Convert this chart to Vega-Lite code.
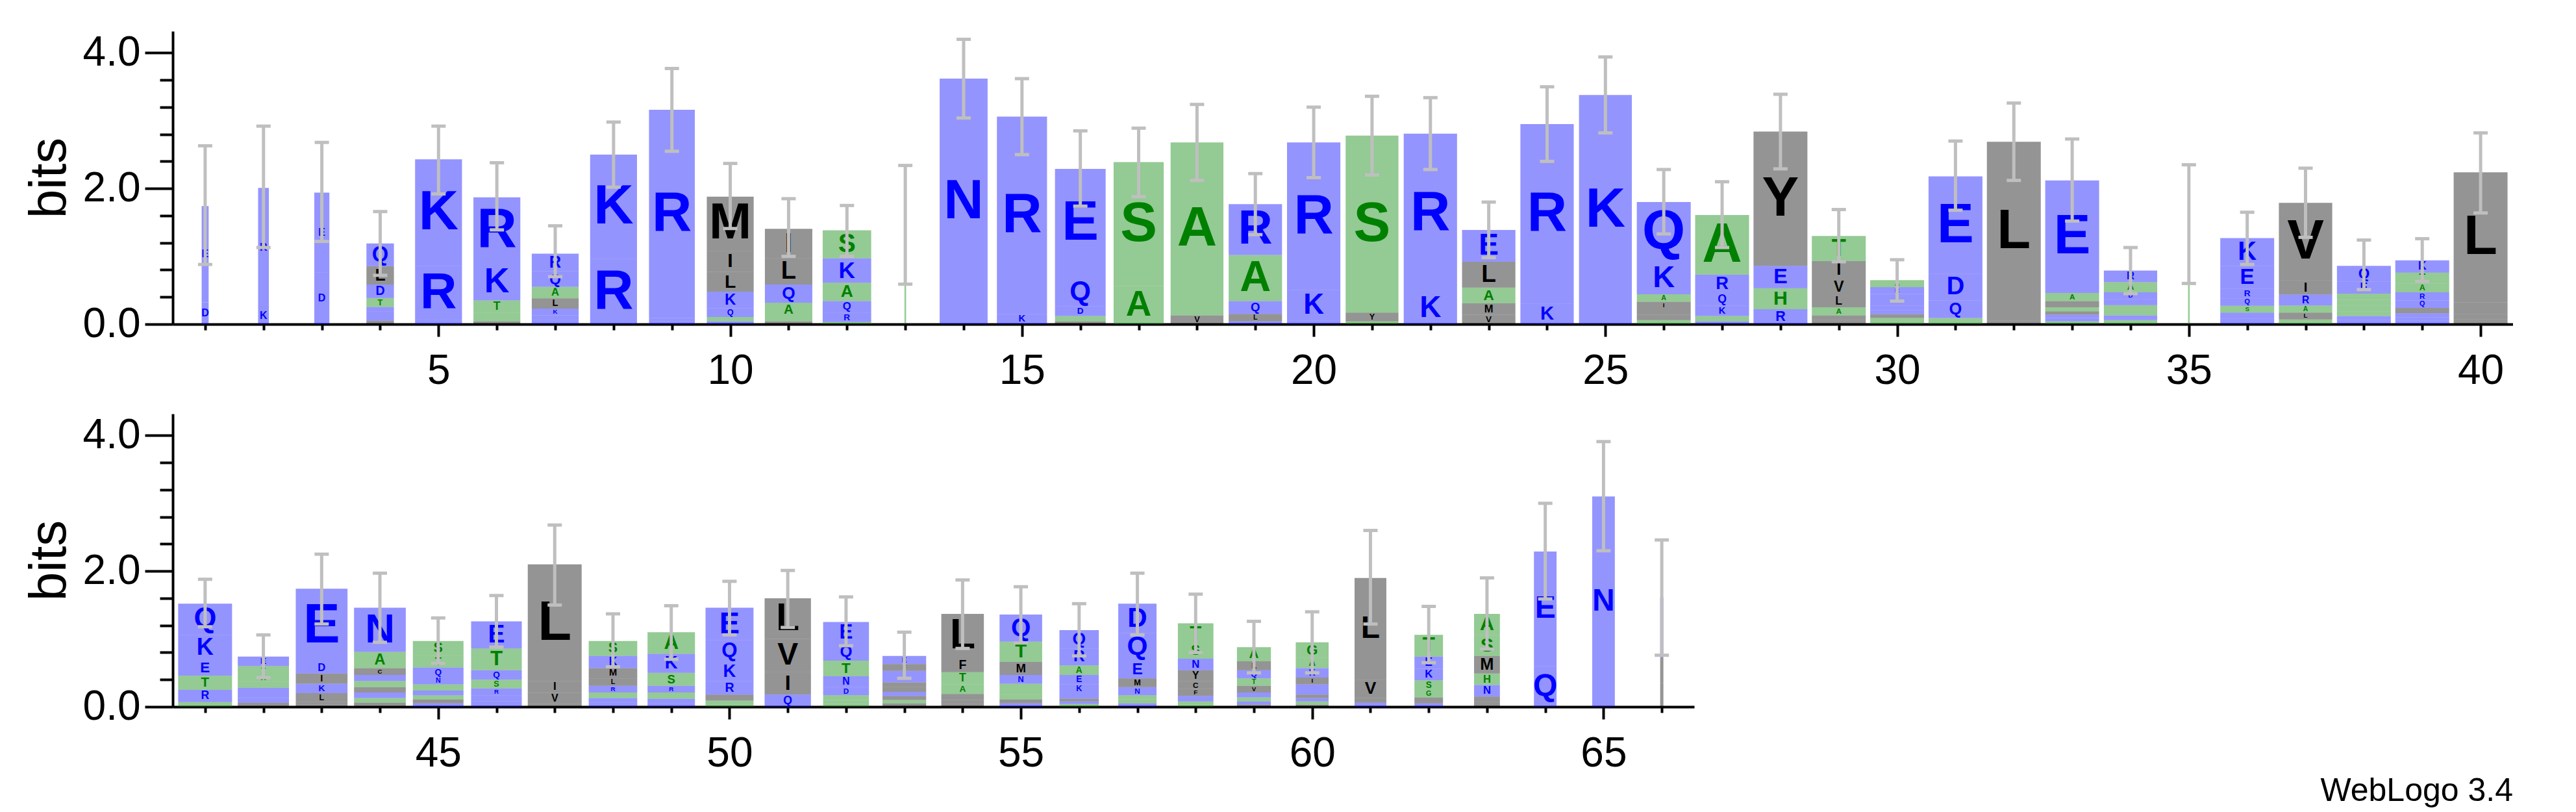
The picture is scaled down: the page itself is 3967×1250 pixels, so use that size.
{
  "$schema": "https://vega.github.io/schema/vega-lite/v6.json",
  "background": "white",
  "autosize": {"type": "pad"},
  "padding": {"left": 36, "top": 48, "right": 0, "bottom": 0},
  "config": {"view": {"stroke": null}, "font": "Liberation Sans"},
  "title": {"text": "WebLogo 3.4", "orient": "bottom", "anchor": "end", "fontSize": 50, "fontWeight": "normal", "font": "Liberation Sans", "color": "black", "offset": 1},
  "spacing": 34,
  "datasets": {
    "cols": [
      {"pos":1,"occ":0.13,"lo":0.88,"hi":2.63},{"pos":2,"occ":0.2,"lo":1.13,"hi":2.92},{"pos":3,"occ":0.28,"lo":1.22,"hi":2.68},{"pos":4,"occ":0.51,"lo":0.72,"hi":1.66},{"pos":5,"occ":0.87,"lo":1.92,"hi":2.92},{"pos":6,"occ":0.87,"lo":1.39,"hi":2.38},{"pos":7,"occ":0.87,"lo":0.7,"hi":1.45},{"pos":8,"occ":0.87,"lo":2.02,"hi":2.98},{"pos":9,"occ":0.85,"lo":2.55,"hi":3.77},{"pos":10,"occ":0.87,"lo":1.41,"hi":2.37},
      {"pos":11,"occ":0.88,"lo":1.0,"hi":1.85},{"pos":12,"occ":0.9,"lo":1.0,"hi":1.75},{"pos":13,"occ":0.03,"lo":0.59,"hi":2.34},{"pos":14,"occ":0.89,"lo":3.04,"hi":4.2},{"pos":15,"occ":0.93,"lo":2.5,"hi":3.62},{"pos":16,"occ":0.94,"lo":1.74,"hi":2.85},{"pos":17,"occ":0.93,"lo":1.88,"hi":2.89},{"pos":18,"occ":0.98,"lo":2.12,"hi":3.24},{"pos":19,"occ":0.99,"lo":1.32,"hi":2.22},{"pos":20,"occ":0.99,"lo":2.16,"hi":3.2},
      {"pos":21,"occ":0.98,"lo":2.2,"hi":3.36},{"pos":22,"occ":0.99,"lo":2.28,"hi":3.34},{"pos":23,"occ":0.99,"lo":0.98,"hi":1.8},{"pos":24,"occ":0.99,"lo":2.4,"hi":3.5},{"pos":25,"occ":0.98,"lo":2.82,"hi":3.94},{"pos":26,"occ":1.0,"lo":1.33,"hi":2.28},{"pos":27,"occ":1.0,"lo":1.13,"hi":2.1},{"pos":28,"occ":1.0,"lo":2.29,"hi":3.39},{"pos":29,"occ":1.0,"lo":0.92,"hi":1.69},{"pos":30,"occ":1.0,"lo":0.34,"hi":0.95},
      {"pos":31,"occ":1.0,"lo":1.68,"hi":2.7},{"pos":32,"occ":1.0,"lo":2.12,"hi":3.26},{"pos":33,"occ":1.0,"lo":1.52,"hi":2.73},{"pos":34,"occ":0.99,"lo":0.45,"hi":1.13},{"pos":35,"occ":0.03,"lo":0.6,"hi":2.35},{"pos":36,"occ":1.0,"lo":0.88,"hi":1.65},{"pos":37,"occ":0.99,"lo":1.28,"hi":2.3},{"pos":38,"occ":1.0,"lo":0.51,"hi":1.24},{"pos":39,"occ":1.0,"lo":0.63,"hi":1.26},{"pos":40,"occ":1.0,"lo":1.64,"hi":2.82},
      {"pos":41,"occ":1.0,"lo":1.18,"hi":1.88},{"pos":42,"occ":0.95,"lo":0.43,"hi":1.06},{"pos":43,"occ":0.96,"lo":1.22,"hi":2.25},{"pos":44,"occ":0.96,"lo":0.95,"hi":1.97},{"pos":45,"occ":0.94,"lo":0.64,"hi":1.31},{"pos":46,"occ":0.94,"lo":0.88,"hi":1.64},{"pos":47,"occ":1.0,"lo":1.5,"hi":2.68},{"pos":48,"occ":0.9,"lo":0.59,"hi":1.37},{"pos":49,"occ":0.88,"lo":0.7,"hi":1.49},{"pos":50,"occ":0.89,"lo":1.06,"hi":1.85},
      {"pos":51,"occ":0.86,"lo":1.17,"hi":2.01},{"pos":52,"occ":0.85,"lo":0.9,"hi":1.62},{"pos":53,"occ":0.81,"lo":0.42,"hi":1.1},{"pos":54,"occ":0.79,"lo":0.86,"hi":1.87},{"pos":55,"occ":0.79,"lo":0.94,"hi":1.77},{"pos":56,"occ":0.73,"lo":0.75,"hi":1.52},{"pos":57,"occ":0.71,"lo":1.06,"hi":1.97},{"pos":58,"occ":0.66,"lo":0.8,"hi":1.66},{"pos":59,"occ":0.63,"lo":0.5,"hi":1.26},{"pos":60,"occ":0.61,"lo":0.5,"hi":1.4},
      {"pos":61,"occ":0.59,"lo":1.22,"hi":2.6},{"pos":62,"occ":0.53,"lo":0.65,"hi":1.48},{"pos":63,"occ":0.48,"lo":0.85,"hi":1.9},{"pos":64,"occ":0.42,"lo":1.59,"hi":3.0},{"pos":65,"occ":0.42,"lo":2.3,"hi":3.91},{"pos":66,"occ":0.06,"lo":0.76,"hi":2.46}
    ],
    "letters": [
      {"pos":1,"aa":"D","bits":0.32},{"pos":1,"aa":"E","bits":1.42},
      {"pos":2,"aa":"K","bits":0.25},{"pos":2,"aa":"R","bits":1.76},
      {"pos":3,"aa":"D","bits":0.76},{"pos":3,"aa":"E","bits":1.18},
      {"pos":4,"aa":"V","bits":0.05},{"pos":4,"aa":"E","bits":0.065},{"pos":4,"aa":"N","bits":0.07},{"pos":4,"aa":"K","bits":0.07},{"pos":4,"aa":"T","bits":0.13},{"pos":4,"aa":"D","bits":0.2},{"pos":4,"aa":"L","bits":0.27},{"pos":4,"aa":"Q","bits":0.335},
      {"pos":5,"aa":"D","bits":0.06},{"pos":5,"aa":"R","bits":0.8},{"pos":5,"aa":"K","bits":1.57},
      {"pos":6,"aa":"L","bits":0.04},{"pos":6,"aa":"S","bits":0.065},{"pos":6,"aa":"A","bits":0.065},{"pos":6,"aa":"T","bits":0.18},{"pos":6,"aa":"K","bits":0.55},{"pos":6,"aa":"R","bits":0.97},
      {"pos":7,"aa":"N","bits":0.06},{"pos":7,"aa":"E","bits":0.07},{"pos":7,"aa":"K","bits":0.1},{"pos":7,"aa":"L","bits":0.15},{"pos":7,"aa":"A","bits":0.17},{"pos":7,"aa":"Q","bits":0.23},{"pos":7,"aa":"R","bits":0.26},
      {"pos":8,"aa":"R","bits":0.96},{"pos":8,"aa":"K","bits":1.54},
      {"pos":9,"aa":"Q","bits":0.04},{"pos":9,"aa":"K","bits":0.05},{"pos":9,"aa":"R","bits":3.07},
      {"pos":10,"aa":"E","bits":0.04},{"pos":10,"aa":"S","bits":0.065},{"pos":10,"aa":"Q","bits":0.13},{"pos":10,"aa":"K","bits":0.245},{"pos":10,"aa":"L","bits":0.29},{"pos":10,"aa":"I","bits":0.31},{"pos":10,"aa":"M","bits":0.8},
      {"pos":11,"aa":"V","bits":0.04},{"pos":11,"aa":"S","bits":0.065},{"pos":11,"aa":"A","bits":0.21},{"pos":11,"aa":"Q","bits":0.27},{"pos":11,"aa":"L","bits":0.39},{"pos":11,"aa":"I","bits":0.43},
      {"pos":12,"aa":"T","bits":0.03},{"pos":12,"aa":"R","bits":0.14},{"pos":12,"aa":"Q","bits":0.17},{"pos":12,"aa":"A","bits":0.27},{"pos":12,"aa":"K","bits":0.36},{"pos":12,"aa":"S","bits":0.415},
      {"pos":13,"aa":"G","bits":1.46},
      {"pos":14,"aa":"N","bits":3.62},
      {"pos":15,"aa":"K","bits":0.15},{"pos":15,"aa":"R","bits":2.91},
      {"pos":16,"aa":"V","bits":0.04},{"pos":16,"aa":"S","bits":0.08},{"pos":16,"aa":"D","bits":0.14},{"pos":16,"aa":"Q","bits":0.43},{"pos":16,"aa":"E","bits":1.6},
      {"pos":17,"aa":"A","bits":0.56},{"pos":17,"aa":"S","bits":1.83},
      {"pos":18,"aa":"V","bits":0.13},{"pos":18,"aa":"A","bits":2.55},
      {"pos":19,"aa":"E","bits":0.04},{"pos":19,"aa":"L","bits":0.11},{"pos":19,"aa":"Q","bits":0.19},{"pos":19,"aa":"A","bits":0.68},{"pos":19,"aa":"R","bits":0.75},
      {"pos":20,"aa":"D","bits":0.05},{"pos":20,"aa":"K","bits":0.45},{"pos":20,"aa":"R","bits":2.18},
      {"pos":21,"aa":"A","bits":0.04},{"pos":21,"aa":"Y","bits":0.13},{"pos":21,"aa":"S","bits":2.61},
      {"pos":22,"aa":"K","bits":0.47},{"pos":22,"aa":"R","bits":2.34},
      {"pos":23,"aa":"V","bits":0.14},{"pos":23,"aa":"M","bits":0.17},{"pos":23,"aa":"A","bits":0.23},{"pos":23,"aa":"L","bits":0.38},{"pos":23,"aa":"E","bits":0.47},
      {"pos":24,"aa":"K","bits":0.3},{"pos":24,"aa":"R","bits":2.65},
      {"pos":25,"aa":"K","bits":3.38},
      {"pos":26,"aa":"T","bits":0.06},{"pos":26,"aa":"M","bits":0.08},{"pos":26,"aa":"L","bits":0.09},{"pos":26,"aa":"I","bits":0.1},{"pos":26,"aa":"A","bits":0.11},{"pos":26,"aa":"K","bits":0.48},{"pos":26,"aa":"Q","bits":0.88},
      {"pos":27,"aa":"E","bits":0.04},{"pos":27,"aa":"T","bits":0.08},{"pos":27,"aa":"K","bits":0.15},{"pos":27,"aa":"Q","bits":0.18},{"pos":27,"aa":"R","bits":0.28},{"pos":27,"aa":"A","bits":0.88},
      {"pos":28,"aa":"R","bits":0.22},{"pos":28,"aa":"H","bits":0.31},{"pos":28,"aa":"E","bits":0.33},{"pos":28,"aa":"Y","bits":1.98},
      {"pos":29,"aa":"M","bits":0.06},{"pos":29,"aa":"F","bits":0.07},{"pos":29,"aa":"A","bits":0.12},{"pos":29,"aa":"L","bits":0.18},{"pos":29,"aa":"V","bits":0.24},{"pos":29,"aa":"I","bits":0.26},{"pos":29,"aa":"T","bits":0.37},
      {"pos":30,"aa":"G","bits":0.04},{"pos":30,"aa":"S","bits":0.05},{"pos":30,"aa":"L","bits":0.055},{"pos":30,"aa":"E","bits":0.06},{"pos":30,"aa":"D","bits":0.07},{"pos":30,"aa":"Q","bits":0.08},{"pos":30,"aa":"K","bits":0.09},{"pos":30,"aa":"R","bits":0.1},{"pos":30,"aa":"A","bits":0.105},
      {"pos":31,"aa":"S","bits":0.09},{"pos":31,"aa":"Q","bits":0.26},{"pos":31,"aa":"D","bits":0.39},{"pos":31,"aa":"E","bits":1.44},
      {"pos":32,"aa":"M","bits":0.05},{"pos":32,"aa":"L","bits":2.64},
      {"pos":33,"aa":"S","bits":0.04},{"pos":33,"aa":"N","bits":0.05},{"pos":33,"aa":"D","bits":0.05},{"pos":33,"aa":"I","bits":0.05},{"pos":33,"aa":"T","bits":0.06},{"pos":33,"aa":"L","bits":0.09},{"pos":33,"aa":"A","bits":0.12},{"pos":33,"aa":"E","bits":1.66},
      {"pos":34,"aa":"G","bits":0.06},{"pos":34,"aa":"N","bits":0.07},{"pos":34,"aa":"T","bits":0.07},{"pos":34,"aa":"S","bits":0.08},{"pos":34,"aa":"E","bits":0.09},{"pos":34,"aa":"D","bits":0.1},{"pos":34,"aa":"A","bits":0.15},{"pos":34,"aa":"R","bits":0.17},
      {"pos":35,"aa":"S","bits":1.47},
      {"pos":36,"aa":"N","bits":0.08},{"pos":36,"aa":"D","bits":0.09},{"pos":36,"aa":"S","bits":0.1},{"pos":36,"aa":"Q","bits":0.11},{"pos":36,"aa":"R","bits":0.14},{"pos":36,"aa":"E","bits":0.34},{"pos":36,"aa":"K","bits":0.41},
      {"pos":37,"aa":"G","bits":0.03},{"pos":37,"aa":"S","bits":0.04},{"pos":37,"aa":"L","bits":0.1},{"pos":37,"aa":"A","bits":0.105},{"pos":37,"aa":"R","bits":0.16},{"pos":37,"aa":"I","bits":0.21},{"pos":37,"aa":"V","bits":1.145},
      {"pos":38,"aa":"N","bits":0.06},{"pos":38,"aa":"R","bits":0.06},{"pos":38,"aa":"T","bits":0.07},{"pos":38,"aa":"S","bits":0.08},{"pos":38,"aa":"A","bits":0.09},{"pos":38,"aa":"G","bits":0.09},{"pos":38,"aa":"E","bits":0.18},{"pos":38,"aa":"Q","bits":0.23},
      {"pos":39,"aa":"D","bits":0.05},{"pos":39,"aa":"E","bits":0.05},{"pos":39,"aa":"N","bits":0.06},{"pos":39,"aa":"V","bits":0.08},{"pos":39,"aa":"Q","bits":0.11},{"pos":39,"aa":"R","bits":0.12},{"pos":39,"aa":"A","bits":0.13},{"pos":39,"aa":"T","bits":0.16},{"pos":39,"aa":"K","bits":0.18},
      {"pos":40,"aa":"V","bits":0.07},{"pos":40,"aa":"I","bits":0.08},{"pos":40,"aa":"M","bits":0.08},{"pos":40,"aa":"F","bits":0.09},{"pos":40,"aa":"L","bits":1.92},
      {"pos":41,"aa":"S","bits":0.07},{"pos":41,"aa":"R","bits":0.18},{"pos":41,"aa":"T","bits":0.21},{"pos":41,"aa":"E","bits":0.23},{"pos":41,"aa":"K","bits":0.37},{"pos":41,"aa":"Q","bits":0.46},
      {"pos":42,"aa":"L","bits":0.06},{"pos":42,"aa":"D","bits":0.07},{"pos":42,"aa":"N","bits":0.07},{"pos":42,"aa":"K","bits":0.08},{"pos":42,"aa":"S","bits":0.09},{"pos":42,"aa":"A","bits":0.11},{"pos":42,"aa":"T","bits":0.12},{"pos":42,"aa":"E","bits":0.14},
      {"pos":43,"aa":"M","bits":0.03},{"pos":43,"aa":"V","bits":0.04},{"pos":43,"aa":"L","bits":0.13},{"pos":43,"aa":"K","bits":0.14},{"pos":43,"aa":"I","bits":0.15},{"pos":43,"aa":"D","bits":0.17},{"pos":43,"aa":"E","bits":1.08},
      {"pos":44,"aa":"V","bits":0.06},{"pos":44,"aa":"G","bits":0.07},{"pos":44,"aa":"D","bits":0.08},{"pos":44,"aa":"L","bits":0.08},{"pos":44,"aa":"S","bits":0.09},{"pos":44,"aa":"Q","bits":0.09},{"pos":44,"aa":"C","bits":0.1},{"pos":44,"aa":"A","bits":0.24},{"pos":44,"aa":"N","bits":0.65},
      {"pos":45,"aa":"E","bits":0.05},{"pos":45,"aa":"L","bits":0.06},{"pos":45,"aa":"G","bits":0.06},{"pos":45,"aa":"D","bits":0.07},{"pos":45,"aa":"A","bits":0.09},{"pos":45,"aa":"N","bits":0.11},{"pos":45,"aa":"Q","bits":0.14},{"pos":45,"aa":"T","bits":0.17},{"pos":45,"aa":"S","bits":0.22},
      {"pos":46,"aa":"N","bits":0.08},{"pos":46,"aa":"D","bits":0.09},{"pos":46,"aa":"R","bits":0.1},{"pos":46,"aa":"S","bits":0.13},{"pos":46,"aa":"Q","bits":0.14},{"pos":46,"aa":"T","bits":0.32},{"pos":46,"aa":"E","bits":0.4},
      {"pos":47,"aa":"M","bits":0.04},{"pos":47,"aa":"V","bits":0.165},{"pos":47,"aa":"I","bits":0.175},{"pos":47,"aa":"L","bits":1.72},
      {"pos":48,"aa":"Q","bits":0.06},{"pos":48,"aa":"D","bits":0.07},{"pos":48,"aa":"T","bits":0.08},{"pos":48,"aa":"R","bits":0.1},{"pos":48,"aa":"L","bits":0.11},{"pos":48,"aa":"M","bits":0.15},{"pos":48,"aa":"K","bits":0.18},{"pos":48,"aa":"S","bits":0.22},
      {"pos":49,"aa":"D","bits":0.05},{"pos":49,"aa":"E","bits":0.07},{"pos":49,"aa":"T","bits":0.09},{"pos":49,"aa":"R","bits":0.1},{"pos":49,"aa":"S","bits":0.19},{"pos":49,"aa":"K","bits":0.28},{"pos":49,"aa":"A","bits":0.32},
      {"pos":50,"aa":"G","bits":0.03},{"pos":50,"aa":"T","bits":0.06},{"pos":50,"aa":"M","bits":0.09},{"pos":50,"aa":"R","bits":0.2},{"pos":50,"aa":"K","bits":0.28},{"pos":50,"aa":"Q","bits":0.32},{"pos":50,"aa":"E","bits":0.48},
      {"pos":51,"aa":"Q","bits":0.18},{"pos":51,"aa":"I","bits":0.33},{"pos":51,"aa":"V","bits":0.49},{"pos":51,"aa":"L","bits":0.6},
      {"pos":52,"aa":"G","bits":0.04},{"pos":52,"aa":"A","bits":0.06},{"pos":52,"aa":"S","bits":0.07},{"pos":52,"aa":"D","bits":0.12},{"pos":52,"aa":"N","bits":0.16},{"pos":52,"aa":"T","bits":0.23},{"pos":52,"aa":"Q","bits":0.25},{"pos":52,"aa":"E","bits":0.32},
      {"pos":53,"aa":"M","bits":0.05},{"pos":53,"aa":"G","bits":0.05},{"pos":53,"aa":"V","bits":0.06},{"pos":53,"aa":"D","bits":0.06},{"pos":53,"aa":"I","bits":0.07},{"pos":53,"aa":"L","bits":0.07},{"pos":53,"aa":"N","bits":0.08},{"pos":53,"aa":"R","bits":0.09},{"pos":53,"aa":"F","bits":0.1},{"pos":53,"aa":"E","bits":0.12},
      {"pos":54,"aa":"I","bits":0.04},{"pos":54,"aa":"V","bits":0.06},{"pos":54,"aa":"M","bits":0.09},{"pos":54,"aa":"A","bits":0.14},{"pos":54,"aa":"T","bits":0.18},{"pos":54,"aa":"F","bits":0.2},{"pos":54,"aa":"L","bits":0.66},
      {"pos":55,"aa":"D","bits":0.05},{"pos":55,"aa":"L","bits":0.06},{"pos":55,"aa":"G","bits":0.07},{"pos":55,"aa":"A","bits":0.07},{"pos":55,"aa":"S","bits":0.09},{"pos":55,"aa":"N","bits":0.13},{"pos":55,"aa":"M","bits":0.19},{"pos":55,"aa":"T","bits":0.3},{"pos":55,"aa":"Q","bits":0.4},
      {"pos":56,"aa":"G","bits":0.04},{"pos":56,"aa":"N","bits":0.04},{"pos":56,"aa":"L","bits":0.04},{"pos":56,"aa":"D","bits":0.08},{"pos":56,"aa":"K","bits":0.13},{"pos":56,"aa":"E","bits":0.14},{"pos":56,"aa":"A","bits":0.14},{"pos":56,"aa":"R","bits":0.25},{"pos":56,"aa":"Q","bits":0.27},
      {"pos":57,"aa":"K","bits":0.05},{"pos":57,"aa":"S","bits":0.06},{"pos":57,"aa":"T","bits":0.06},{"pos":57,"aa":"N","bits":0.12},{"pos":57,"aa":"M","bits":0.13},{"pos":57,"aa":"E","bits":0.25},{"pos":57,"aa":"Q","bits":0.42},{"pos":57,"aa":"D","bits":0.43},
      {"pos":58,"aa":"G","bits":0.03},{"pos":58,"aa":"A","bits":0.05},{"pos":58,"aa":"R","bits":0.08},{"pos":58,"aa":"F","bits":0.1},{"pos":58,"aa":"C","bits":0.12},{"pos":58,"aa":"Y","bits":0.16},{"pos":58,"aa":"N","bits":0.17},{"pos":58,"aa":"S","bits":0.22},{"pos":58,"aa":"T","bits":0.3},
      {"pos":59,"aa":"M","bits":0.03},{"pos":59,"aa":"N","bits":0.05},{"pos":59,"aa":"S","bits":0.06},{"pos":59,"aa":"E","bits":0.07},{"pos":59,"aa":"V","bits":0.1},{"pos":59,"aa":"T","bits":0.11},{"pos":59,"aa":"Q","bits":0.12},{"pos":59,"aa":"L","bits":0.13},{"pos":59,"aa":"A","bits":0.21},
      {"pos":60,"aa":"L","bits":0.03},{"pos":60,"aa":"S","bits":0.05},{"pos":60,"aa":"D","bits":0.05},{"pos":60,"aa":"V","bits":0.05},{"pos":60,"aa":"E","bits":0.07},{"pos":60,"aa":"Q","bits":0.08},{"pos":60,"aa":"I","bits":0.1},{"pos":60,"aa":"K","bits":0.14},{"pos":60,"aa":"A","bits":0.15},{"pos":60,"aa":"G","bits":0.23},
      {"pos":61,"aa":"Q","bits":0.06},{"pos":61,"aa":"F","bits":0.07},{"pos":61,"aa":"V","bits":0.27},{"pos":61,"aa":"L","bits":1.5},
      {"pos":62,"aa":"N","bits":0.05},{"pos":62,"aa":"L","bits":0.09},{"pos":62,"aa":"G","bits":0.11},{"pos":62,"aa":"S","bits":0.14},{"pos":62,"aa":"K","bits":0.17},{"pos":62,"aa":"E","bits":0.18},{"pos":62,"aa":"T","bits":0.32},
      {"pos":63,"aa":"V","bits":0.07},{"pos":63,"aa":"L","bits":0.08},{"pos":63,"aa":"N","bits":0.17},{"pos":63,"aa":"H","bits":0.17},{"pos":63,"aa":"M","bits":0.26},{"pos":63,"aa":"S","bits":0.31},{"pos":63,"aa":"A","bits":0.31},
      {"pos":64,"aa":"Q","bits":0.6},{"pos":64,"aa":"E","bits":1.69},
      {"pos":65,"aa":"N","bits":3.1},
      {"pos":66,"aa":"V","bits":0.35},{"pos":66,"aa":"L","bits":0.38},{"pos":66,"aa":"K","bits":0.4},{"pos":66,"aa":"E","bits":0.48}
    ]
  },
  "vconcat": [
    {
      "width": 3604, "height": 451,
      "encoding": {
        "x": {"field": "pos", "type": "quantitative",
          "scale": {"domain": [0.5, 40.5], "nice": false, "zero": false},
          "axis": {"title": null, "values": [1,2,3,4,5,6,7,8,9,10,11,12,13,14,15,16,17,18,19,20,21,22,23,24,25,26,27,28,29,30,31,32,33,34,35,36,37,38,39,40],
            "format": "d", "labelExpr": "datum.value % 5 === 0 ? datum.label : ''",
            "tickSize": {"condition": {"test": "datum.value % 5 === 0", "value": 19}, "value": 9},
            "tickWidth": 4, "tickColor": "black", "domainWidth": 4, "domainColor": "black",
            "labelFontSize": 64, "labelFont": "Liberation Sans", "labelColor": "black", "labelPadding": 21,
            "labelOverlap": false, "labelFlush": false, "labelBound": false, "grid": false}}
      },
      "layer": [
        {
          "data": {"name": "letters"},
          "transform": [
            {"filter": "datum.pos <= 40"},
            {"lookup": "pos", "from": {"data": {"name": "cols"}, "key": "pos", "fields": ["occ"]}},
            {"stack": "bits", "groupby": ["pos"], "sort": [{"field": "bits", "order": "ascending"}], "as": ["b0", "b1"]}
          ],
          "resolve": {"scale": {"size": "independent"}},
          "layer": [
            {"mark": {"type": "bar", "opacity": 0.42},
             "encoding": {
               "y": {"field": "b0", "type": "quantitative", "scale": {"domain": [0, 4.32], "nice": false},
                 "axis": {"title": "bits", "values": [0,0.2,0.4,0.6,0.8,1,1.2,1.4,1.6,1.8,2,2.2,2.4,2.6,2.8,3,3.2,3.4,3.6,3.8,4,4.2],
                   "labelExpr": "datum.value % 1 === 0 ? format(datum.value, '.1f') : ''",
                   "tickSize": {"condition": {"test": "datum.value % 1 === 0", "value": 43}, "value": 20},
                   "tickWidth": 4, "tickColor": "black", "domainWidth": 4, "domainColor": "black",
                   "labelFontSize": 64, "labelFont": "Liberation Sans", "labelColor": "black", "labelPadding": 7,
                   "labelOverlap": false, "labelFlush": false, "labelBound": false,
                   "titleFontSize": 80, "titleFont": "Liberation Sans", "titleFontWeight": "normal", "titleColor": "black", "titlePadding": 10, "grid": false}},
               "y2": {"field": "b1"},
               "color": {"field": "aa", "type": "nominal", "legend": null,
                 "scale": {"domain": ["R","K","D","E","N","Q","S","G","H","T","A","P","Y","V","M","C","L","F","I","W"],
                   "range": ["#0000ff","#0000ff","#0000ff","#0000ff","#0000ff","#0000ff","#008000","#008000","#008000","#008000","#008000","#008000","#000000","#000000","#000000","#000000","#000000","#000000","#000000","#000000"]}},
               "size": {"field": "occ", "type": "quantitative", "legend": null, "scale": {"domain": [0, 1], "range": [0, 83]}}
             }},
            {"transform": [
               {"filter": "datum.occ >= 0.75 && datum.bits >= 0.1"},
               {"fold": ["b0", "b1"]},
               {"aggregate": [{"op": "mean", "field": "value", "as": "mid"}], "groupby": ["pos", "aa", "bits", "occ"]}],
             "mark": {"type": "text", "font": "Liberation Sans", "fontWeight": "bold", "baseline": "middle", "align": "center"},
             "encoding": {
               "y": {"field": "mid", "type": "quantitative", "scale": {"domain": [0, 4.32], "nice": false}},
               "text": {"field": "aa"},
               "color": {"field": "aa", "type": "nominal", "legend": null},
               "size": {"field": "bits", "type": "quantitative", "legend": null, "scale": {"domain": [0, 0.87], "range": [0, 85], "clamp": true}}
             }},
            {"transform": [
               {"filter": "datum.occ >= 0.4 && datum.occ < 0.75 && datum.bits >= 0.1"},
               {"fold": ["b0", "b1"]},
               {"aggregate": [{"op": "mean", "field": "value", "as": "mid"}], "groupby": ["pos", "aa", "bits", "occ"]}],
             "mark": {"type": "text", "font": "Liberation Sans", "fontWeight": "bold", "baseline": "middle", "align": "center"},
             "encoding": {
               "y": {"field": "mid", "type": "quantitative", "scale": {"domain": [0, 4.32], "nice": false}},
               "text": {"field": "aa"},
               "color": {"field": "aa", "type": "nominal", "legend": null},
               "size": {"field": "bits", "type": "quantitative", "legend": null, "scale": {"domain": [0, 0.49], "range": [0, 48], "clamp": true}}
             }},
            {"transform": [
               {"filter": "datum.occ >= 0.1 && datum.occ < 0.4 && datum.bits >= 0.1"},
               {"fold": ["b0", "b1"]},
               {"aggregate": [{"op": "mean", "field": "value", "as": "mid"}], "groupby": ["pos", "aa", "bits", "occ"]}],
             "mark": {"type": "text", "font": "Liberation Sans", "fontWeight": "bold", "baseline": "middle", "align": "center"},
             "encoding": {
               "y": {"field": "mid", "type": "quantitative", "scale": {"domain": [0, 4.32], "nice": false}},
               "text": {"field": "aa"},
               "color": {"field": "aa", "type": "nominal", "legend": null},
               "size": {"field": "bits", "type": "quantitative", "legend": null, "scale": {"domain": [0, 0.164], "range": [0, 16], "clamp": true}}
             }}
          ]
        },
        {
          "data": {"name": "cols"},
          "transform": [{"filter": "datum.pos <= 40"}],
          "layer": [
            {"mark": {"type": "rule", "color": "#bfbfbf", "strokeWidth": 5},
             "encoding": {"y": {"field": "lo", "type": "quantitative", "scale": {"domain": [0, 4.32], "nice": false}}, "y2": {"field": "hi"}}},
            {"mark": {"type": "tick", "orient": "horizontal", "color": "#bfbfbf", "size": 22, "thickness": 5, "opacity": 1},
             "encoding": {"y": {"field": "lo", "type": "quantitative", "scale": {"domain": [0, 4.32], "nice": false}}}},
            {"mark": {"type": "tick", "orient": "horizontal", "color": "#bfbfbf", "size": 22, "thickness": 5, "opacity": 1},
             "encoding": {"y": {"field": "hi", "type": "quantitative", "scale": {"domain": [0, 4.32], "nice": false}}}}
          ]
        }
      ]
    },
    {
      "width": 2343, "height": 451,
      "encoding": {
        "x": {"field": "pos", "type": "quantitative",
          "scale": {"domain": [40.5, 66.5], "nice": false, "zero": false},
          "axis": {"title": null, "values": [41,42,43,44,45,46,47,48,49,50,51,52,53,54,55,56,57,58,59,60,61,62,63,64,65,66],
            "format": "d", "labelExpr": "datum.value % 5 === 0 ? datum.label : ''",
            "tickSize": {"condition": {"test": "datum.value % 5 === 0", "value": 19}, "value": 9},
            "tickWidth": 4, "tickColor": "black", "domainWidth": 4, "domainColor": "black",
            "labelFontSize": 64, "labelFont": "Liberation Sans", "labelColor": "black", "labelPadding": 21,
            "labelOverlap": false, "labelFlush": false, "labelBound": false, "grid": false}}
      },
      "layer": [
        {
          "data": {"name": "letters"},
          "transform": [
            {"filter": "datum.pos > 40"},
            {"lookup": "pos", "from": {"data": {"name": "cols"}, "key": "pos", "fields": ["occ"]}},
            {"stack": "bits", "groupby": ["pos"], "sort": [{"field": "bits", "order": "ascending"}], "as": ["b0", "b1"]}
          ],
          "resolve": {"scale": {"size": "independent"}},
          "layer": [
            {"mark": {"type": "bar", "opacity": 0.42},
             "encoding": {
               "y": {"field": "b0", "type": "quantitative", "scale": {"domain": [0, 4.32], "nice": false},
                 "axis": {"title": "bits", "values": [0,0.2,0.4,0.6,0.8,1,1.2,1.4,1.6,1.8,2,2.2,2.4,2.6,2.8,3,3.2,3.4,3.6,3.8,4,4.2],
                   "labelExpr": "datum.value % 1 === 0 ? format(datum.value, '.1f') : ''",
                   "tickSize": {"condition": {"test": "datum.value % 1 === 0", "value": 43}, "value": 20},
                   "tickWidth": 4, "tickColor": "black", "domainWidth": 4, "domainColor": "black",
                   "labelFontSize": 64, "labelFont": "Liberation Sans", "labelColor": "black", "labelPadding": 7,
                   "labelOverlap": false, "labelFlush": false, "labelBound": false,
                   "titleFontSize": 80, "titleFont": "Liberation Sans", "titleFontWeight": "normal", "titleColor": "black", "titlePadding": 10, "grid": false}},
               "y2": {"field": "b1"},
               "color": {"field": "aa", "type": "nominal", "legend": null,
                 "scale": {"domain": ["R","K","D","E","N","Q","S","G","H","T","A","P","Y","V","M","C","L","F","I","W"],
                   "range": ["#0000ff","#0000ff","#0000ff","#0000ff","#0000ff","#0000ff","#008000","#008000","#008000","#008000","#008000","#008000","#000000","#000000","#000000","#000000","#000000","#000000","#000000","#000000"]}},
               "size": {"field": "occ", "type": "quantitative", "legend": null, "scale": {"domain": [0, 1], "range": [0, 83]}}
             }},
            {"transform": [
               {"filter": "datum.occ >= 0.75 && datum.bits >= 0.1"},
               {"fold": ["b0", "b1"]},
               {"aggregate": [{"op": "mean", "field": "value", "as": "mid"}], "groupby": ["pos", "aa", "bits", "occ"]}],
             "mark": {"type": "text", "font": "Liberation Sans", "fontWeight": "bold", "baseline": "middle", "align": "center"},
             "encoding": {
               "y": {"field": "mid", "type": "quantitative", "scale": {"domain": [0, 4.32], "nice": false}},
               "text": {"field": "aa"},
               "color": {"field": "aa", "type": "nominal", "legend": null},
               "size": {"field": "bits", "type": "quantitative", "legend": null, "scale": {"domain": [0, 0.87], "range": [0, 85], "clamp": true}}
             }},
            {"transform": [
               {"filter": "datum.occ >= 0.4 && datum.occ < 0.75 && datum.bits >= 0.1"},
               {"fold": ["b0", "b1"]},
               {"aggregate": [{"op": "mean", "field": "value", "as": "mid"}], "groupby": ["pos", "aa", "bits", "occ"]}],
             "mark": {"type": "text", "font": "Liberation Sans", "fontWeight": "bold", "baseline": "middle", "align": "center"},
             "encoding": {
               "y": {"field": "mid", "type": "quantitative", "scale": {"domain": [0, 4.32], "nice": false}},
               "text": {"field": "aa"},
               "color": {"field": "aa", "type": "nominal", "legend": null},
               "size": {"field": "bits", "type": "quantitative", "legend": null, "scale": {"domain": [0, 0.49], "range": [0, 48], "clamp": true}}
             }}
          ]
        },
        {
          "data": {"name": "cols"},
          "transform": [{"filter": "datum.pos > 40"}],
          "layer": [
            {"mark": {"type": "rule", "color": "#bfbfbf", "strokeWidth": 5},
             "encoding": {"y": {"field": "lo", "type": "quantitative", "scale": {"domain": [0, 4.32], "nice": false}}, "y2": {"field": "hi"}}},
            {"mark": {"type": "tick", "orient": "horizontal", "color": "#bfbfbf", "size": 22, "thickness": 5, "opacity": 1},
             "encoding": {"y": {"field": "lo", "type": "quantitative", "scale": {"domain": [0, 4.32], "nice": false}}}},
            {"mark": {"type": "tick", "orient": "horizontal", "color": "#bfbfbf", "size": 22, "thickness": 5, "opacity": 1},
             "encoding": {"y": {"field": "hi", "type": "quantitative", "scale": {"domain": [0, 4.32], "nice": false}}}}
          ]
        }
      ]
    }
  ]
}
